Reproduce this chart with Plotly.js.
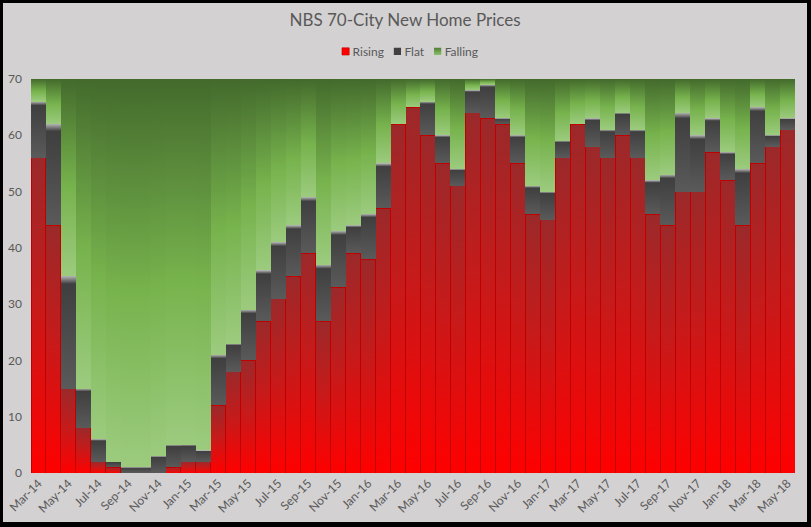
<!DOCTYPE html>
<html>
<head>
<meta charset="utf-8">
<script src="https://cdn.plot.ly/plotly-3.0.1.min.js"></script>
<style>
  html, body { margin: 0; padding: 0; background: #000; width: 811px; height: 527px; overflow: hidden; }
  #chart { position: absolute; left: 3px; top: 3px; width: 804px; height: 519px; background: #d3d1d2; }
</style>
</head>
<body>
<div id="chart"></div>
<script>
const months = ["Mar-14","Apr-14","May-14","Jun-14","Jul-14","Aug-14","Sep-14","Oct-14","Nov-14","Dec-14",
  "Jan-15","Feb-15","Mar-15","Apr-15","May-15","Jun-15","Jul-15","Aug-15","Sep-15","Oct-15","Nov-15","Dec-15",
  "Jan-16","Feb-16","Mar-16","Apr-16","May-16","Jun-16","Jul-16","Aug-16","Sep-16","Oct-16","Nov-16","Dec-16",
  "Jan-17","Feb-17","Mar-17","Apr-17","May-17","Jun-17","Jul-17","Aug-17","Sep-17","Oct-17","Nov-17","Dec-17",
  "Jan-18","Feb-18","Mar-18","Apr-18","May-18"];
const rising = [56,44,15,8,2,1,0,0,0,1,
  2,2,12,18,20,27,31,35,39,27,33,39,
  38,47,62,65,60,55,51,64,63,62,55,46,
  45,56,62,58,56,60,56,46,44,50,50,57,
  52,44,55,58,61];
const flat = [10,18,20,7,4,1,1,1,3,4,
  3,2,9,5,9,9,10,9,10,10,10,5,
  8,8,0,0,6,5,3,4,6,1,5,5,
  5,3,0,5,5,4,5,6,9,14,10,6,
  5,10,10,2,2];
const falling = [4,8,35,55,64,68,69,69,67,65,
  65,66,49,47,41,34,29,26,21,33,27,26,
  24,15,8,5,4,10,16,2,1,7,10,19,
  20,11,8,7,9,6,9,18,17,6,10,7,
  13,16,5,10,7];

const FONT = "Lato, 'Open Sans', sans-serif";

const traces = [
  { type: "bar", name: "Rising", x: months, y: rising,
    marker: { color: "#d01818", line: { color: "#c00000", width: 1 } }, hoverinfo: "x+y+name" },
  { type: "bar", name: "Flat", x: months, y: flat,
    marker: { color: "#4a4a4a", line: { width: 0 } }, hoverinfo: "x+y+name" },
  { type: "bar", name: "Falling", x: months, y: falling,
    marker: { color: "#72ae4a", line: { width: 0 } }, hoverinfo: "x+y+name" }
];

const layout = {
  width: 804, height: 519,
  paper_bgcolor: "#d3d1d2", plot_bgcolor: "#d3d1d2",
  margin: { l: 28, r: 12, t: 76, b: 49, pad: 0 },
  barmode: "stack", bargap: 0,
  font: { family: FONT, color: "#595959", size: 12 },
  title: { text: "NBS 70-City New Home Prices", x: 0.5, xanchor: "center", y: 0.968, yanchor: "middle",
    font: { family: FONT, size: 17, color: "#595959" } },
  showlegend: true,
  legend: { orientation: "h", x: 0.5, xanchor: "center", y: 1.070, yanchor: "middle",
    font: { family: FONT, size: 12, color: "#595959" }, bgcolor: "rgba(0,0,0,0)",
    itemwidth: 30, tracegroupgap: 0, traceorder: "normal" },
  xaxis: { type: "category", tickmode: "linear", dtick: 2, tickangle: -45,
    tickfont: { family: FONT, size: 12, color: "#595959" }, showgrid: false, zeroline: false,
    showline: false, ticks: "", automargin: false },
  yaxis: { range: [0, 70], dtick: 10, tickfont: { family: FONT, size: 12, color: "#595959" },
    ticklabelstandoff: 8,
    showgrid: false, zeroline: false, showline: false, ticks: "", automargin: false }
};

const gradDefs = {
  gRising: [["0", "#9b292a"], ["0.45", "#c51b1b"], ["1", "#ff0000"]],
  gFlat: [["0", "#b4b4b4"], ["0.07", "#3f3f3f"], ["1", "#5a5a5a"]],
  gFalling: [["0", "#436a2c"], ["0.55", "#77b34d"], ["1", "#9ccb7e"]],
  gFallingLeg: [["0", "#4f7d35"], ["1", "#8cc26a"]]
};

function parseTranslate(s) {
  const m = /translate\(\s*([-\d.e]+)[ ,]+([-\d.e]+)\s*\)/.exec(s || "");
  return m ? [parseFloat(m[1]), parseFloat(m[2])] : [0, 0];
}

function compactLegend(gd) {
  const items = Array.from(gd.querySelectorAll(".legend .traces"));
  if (!items.length) return;
  if (items[0].getAttribute("data-compact") === "1") return;
  const SYM_C = 3.5, TEXT_X = 10.5, GAP = 10;
  const info = items.map(function (tr) {
    const t = tr.querySelector("text.legendtext");
    const pos = parseTranslate(tr.getAttribute("transform"));
    const tx = t ? parseFloat(t.getAttribute("x") || "40") : 40;
    const tw = t ? t.getComputedTextLength() : 0;
    return { tr: tr, t: t, pos: pos, tx: tx, tw: tw };
  });
  const first = info[0], last = info[info.length - 1];
  const oldStart = first.pos[0];
  const oldEnd = last.pos[0] + last.tx + last.tw;
  const center = (oldStart + oldEnd) / 2;
  let total = 0;
  info.forEach(function (d, i) { total += TEXT_X + d.tw + (i < info.length - 1 ? GAP : 0); });
  let x = center - total / 2;
  const legFill = ["#ff0000", "#404040", "url(#gFallingLeg)"];
  info.forEach(function (d, i) {
    d.tr.setAttribute("transform", "translate(" + x + "," + d.pos[1] + ")");
    d.tr.setAttribute("data-compact", "1");
    if (d.t) d.t.setAttribute("x", TEXT_X);
    d.tr.querySelectorAll(".legendpoints path").forEach(function (p) {
      p.style.fill = legFill[i];
      p.setAttribute("transform", "translate(" + SYM_C + ",0) scale(0.6)");
    });
    x += TEXT_X + d.tw + GAP;
  });
}

function applyGradients(gd) {
  const svg = gd.querySelector("svg.main-svg");
  if (!svg) return;
  const NS = "http://www.w3.org/2000/svg";
  let defs = svg.querySelector("defs");
  if (!defs) { defs = document.createElementNS(NS, "defs"); svg.insertBefore(defs, svg.firstChild); }
  Object.keys(gradDefs).forEach(function (id) {
    if (document.getElementById(id)) return;
    const lg = document.createElementNS(NS, "linearGradient");
    lg.setAttribute("id", id);
    lg.setAttribute("x1", "0"); lg.setAttribute("y1", "0");
    lg.setAttribute("x2", "0"); lg.setAttribute("y2", "1");
    gradDefs[id].forEach(function (s) {
      const st = document.createElementNS(NS, "stop");
      st.setAttribute("offset", s[0]);
      st.setAttribute("stop-color", s[1]);
      lg.appendChild(st);
    });
    defs.appendChild(lg);
  });
  const ids = ["gRising", "gFlat", "gFalling"];
  gd.querySelectorAll(".barlayer .trace").forEach(function (tr, i) {
    tr.querySelectorAll(".point path").forEach(function (p) {
      p.style.fill = "url(#" + ids[i] + ")";
    });
  });
  compactLegend(gd);
}

const gd = document.getElementById("chart");
Plotly.newPlot(gd, traces, layout, { displayModeBar: false, staticPlot: true }).then(function () {
  applyGradients(gd);
  gd.on("plotly_afterplot", function () { applyGradients(gd); });
});
</script>
</body>
</html>
